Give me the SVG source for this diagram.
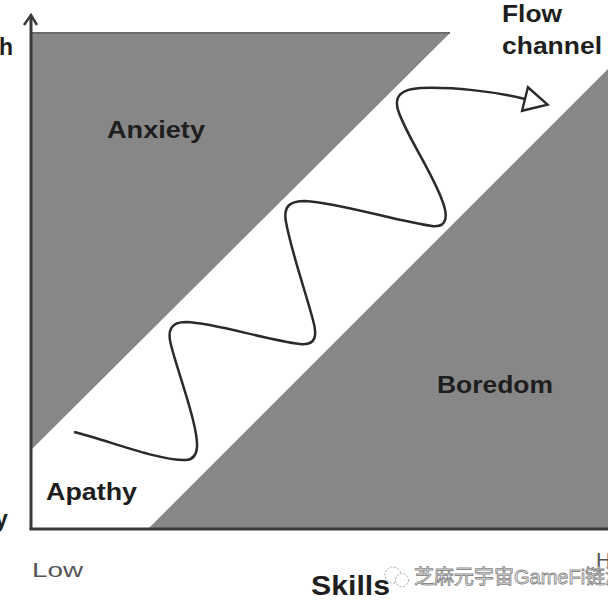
<svg xmlns="http://www.w3.org/2000/svg" width="608" height="608" viewBox="0 0 608 608">
<style>
.region{fill:#878787;}
.lbl{font-family:"Liberation Sans",Arial,sans-serif;font-weight:bold;fill:#1e1e1e;}
.axt{font-family:"Liberation Sans",Arial,sans-serif;fill:#555;}
.axis{stroke:#3a3a3a;stroke-width:3;fill:none;}
.wave{stroke:#2a2a2a;stroke-width:2.5;fill:none;}
.wm{font-family:"Liberation Sans","Noto Sans CJK SC",sans-serif;fill:#fff;stroke:#8a8a8a;stroke-width:0.9;}
</style>
<defs>
<marker id="hollow" markerUnits="userSpaceOnUse" markerWidth="30" markerHeight="30" viewBox="-3 -3 30 31" refX="0" refY="12.5" orient="auto">
<path d="M0,0 L24,12.5 L0,25 Z" fill="#fff" stroke="#2a2a2a" stroke-width="2.5" stroke-linejoin="miter"/>
</marker>
</defs>
<rect width="608" height="608" fill="#fff"/>
<g id="anxiety">
<polygon class="region" points="31,33 450,33 31,450"/>
<line x1="31" y1="33" x2="450" y2="33" stroke="#6a6a6a" stroke-width="2"/>
<text class="lbl" x="107" y="138" font-size="24" textLength="98" lengthAdjust="spacingAndGlyphs">Anxiety</text>
</g>
<g id="boredom">
<polygon class="region" points="148,529 608,69 608,529"/>
<text class="lbl" x="437" y="393" font-size="24" textLength="116" lengthAdjust="spacingAndGlyphs">Boredom</text>
</g>
<g id="apathy">
<text class="lbl" x="46" y="500" font-size="23" textLength="91" lengthAdjust="spacingAndGlyphs">Apathy</text>
</g>
<g id="flow-channel">
<text class="lbl" x="502" y="22" font-size="23" textLength="60" lengthAdjust="spacingAndGlyphs">Flow</text>
<text class="lbl" x="502" y="54" font-size="23" textLength="100" lengthAdjust="spacingAndGlyphs">channel</text>
</g>
<g id="axes">
<line class="axis" x1="31" y1="17" x2="31" y2="529"/>
<line class="axis" x1="29.5" y1="529" x2="608" y2="529"/>
<polyline points="24,25 31,15 37,25" fill="none" stroke="#3a3a3a" stroke-width="2.5"/>
<text class="lbl" x="-1" y="55" font-size="23">h</text>
<text class="lbl" x="-5" y="527" font-size="23">y</text>
<text class="axt" x="32" y="577" font-size="21" textLength="51" lengthAdjust="spacingAndGlyphs">Low</text>
<text class="axt" x="596" y="567" font-size="21">H</text>
<text class="lbl" x="311" y="595" font-size="27" textLength="79" lengthAdjust="spacingAndGlyphs">Skills</text>
</g>
<g id="connectors">
<path class="wave" marker-end="url(#hollow)" d="M74,432 C110,441 160,461 186,460 C201,459 198,440 193,420 C187,395 176,365 171,345 C167,330 171,322 186,322 C216,323 266,340 300,344 C317,346 317,334 313,320 C305,290 291,250 286,222 C283,206 290,201 305,201 C340,203 400,222 432,226 C448,228 448,215 442,200 C431,170 406,135 398,110 C394,96 401,89 421,88 C452,87 493,91 525,99"/>
</g>
<g id="watermark">
<circle cx="393" cy="575" r="8" fill="none" stroke="#aaa" stroke-width="1" stroke-dasharray="2 1.5"/>
<circle cx="402" cy="580" r="6.5" fill="#fff" stroke="#aaa" stroke-width="1" stroke-dasharray="2 1.5"/>
<text class="wm" x="414" y="584" font-size="20">芝麻元宇宙GameFi链游</text>
</g>
</svg>
